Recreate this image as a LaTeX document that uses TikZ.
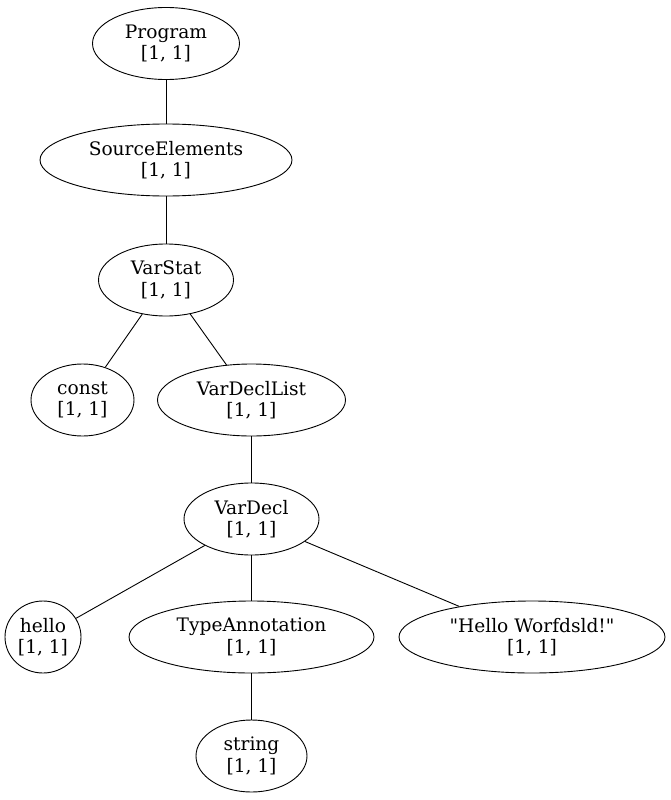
\documentclass[tikz,border=0pt]{standalone}
\usepackage{fontspec}
\setmainfont[Ligatures=TeXOff]{DejaVu Serif}
\usetikzlibrary{shapes.geometric}
\begin{document}
\begin{tikzpicture}[x=1pt,y=-1pt,
  tn/.style={ellipse,draw,line width=0.9pt,inner sep=0pt,minimum height=72pt,align=center,
    font=\fontsize{18.6}{21.5}\selectfont},
  edge/.style={draw,line width=0.9pt}]
\useasboundingbox (0,0) rectangle (671,800);
\node[tn,minimum width=147pt] (prog) at (166,43.5) {Program\\{}[1, 1]};
\node[tn,minimum width=252pt] (se) at (166,160) {SourceElements\\{}[1, 1]};
\node[tn,minimum width=135pt] (vs) at (166,280) {VarStat\\{}[1, 1]};
\node[tn,minimum width=103pt] (const) at (82.5,400) {const\\{}[1, 1]};
\node[tn,minimum width=188pt] (vdl) at (251.5,400) {VarDeclList\\{}[1, 1]};
\node[tn,minimum width=135pt] (vd) at (251.5,519) {VarDecl\\{}[1, 1]};
\node[tn,minimum width=76pt] (hello) at (43,637) {hello\\{}[1, 1]};
\node[tn,minimum width=245pt] (ta) at (251.5,637) {TypeAnnotation\\{}[1, 1]};
\node[tn,minimum width=266pt] (str) at (532,637) {"Hello Worfdsld!"\\{}[1, 1]};
\node[tn,minimum width=111pt] (string) at (251.5,756) {string\\{}[1, 1]};
\draw[edge] (prog) -- (se);
\draw[edge] (se) -- (vs);
\draw[edge] (vs) -- (const);
\draw[edge] (vs) -- (vdl);
\draw[edge] (vdl) -- (vd);
\draw[edge] (vd) -- (hello);
\draw[edge] (vd) -- (ta);
\draw[edge] (vd) -- (str);
\draw[edge] (ta) -- (string);
\end{tikzpicture}
\end{document}
